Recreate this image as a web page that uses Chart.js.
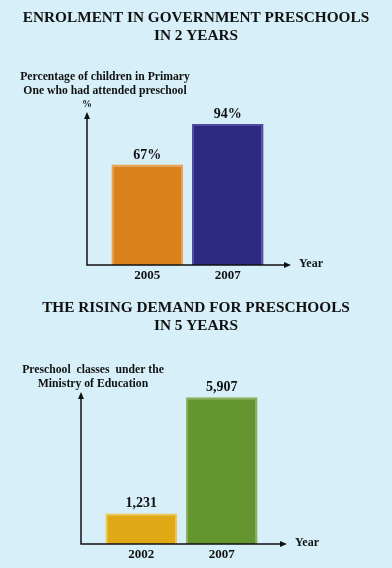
<!DOCTYPE html>
<html>
<head>
<meta charset="utf-8">
<script src="https://cdn.jsdelivr.net/npm/chart.js@4"></script>
<style>
  html, body { margin: 0; padding: 0; background: #d7eff9; }
  canvas { display: block; }
</style>
</head>
<body>
<canvas id="enrol"></canvas>
<canvas id="classes"></canvas>
<script>
// chart 1 - enrolment
const enrolYears = ['2005', '2007'];
const enrolPct = [67, 94];
const enrolColors = ['#d9821d', '#2b2a80'];
const enrolBorders = ['#eea04a', '#4b4aa4'];

// chart 2 - preschool classes
const classYears = ['2002', '2007'];
const classCounts = [1231, 5907];
const classColors = ['#e0a815', '#64952e'];
const classBorders = ['#f2c44a', '#86b35a'];

const serif = '"Liberation Serif", "DejaVu Serif", serif';

// draws the arrow axes, headings and the value labels on top of the bars
const decor = {
  id: 'decor',
  afterDatasetsDraw(chart, args, opts) {
    const ctx = chart.ctx;
    const area = chart.chartArea;
    const y0 = chart.scales.y.getPixelForValue(0);
    const ax = area.left - opts.gap;
    ctx.save();
    ctx.strokeStyle = '#111';
    ctx.fillStyle = '#111';
    ctx.lineWidth = 1.5;
    ctx.beginPath();
    ctx.moveTo(ax, opts.arrowTop + 4);
    ctx.lineTo(ax, y0);
    ctx.lineTo(opts.arrowRight - 4, y0);
    ctx.stroke();
    // arrow heads
    ctx.beginPath();
    ctx.moveTo(ax, opts.arrowTop);
    ctx.lineTo(ax - 3, opts.arrowTop + 7);
    ctx.lineTo(ax + 3, opts.arrowTop + 7);
    ctx.fill();
    ctx.beginPath();
    ctx.moveTo(opts.arrowRight, y0);
    ctx.lineTo(opts.arrowRight - 7, y0 - 3);
    ctx.lineTo(opts.arrowRight - 7, y0 + 3);
    ctx.fill();

    ctx.textAlign = 'left';
    ctx.textBaseline = 'middle';
    ctx.font = 'bold 12px ' + serif;
    ctx.fillText('Year', opts.arrowRight + 8, y0 - 1);

    ctx.textAlign = 'center';
    ctx.font = 'bold 15.3px ' + serif;
    opts.title.forEach((t, i) => ctx.fillText(t, 196, opts.titleY + i * 18));

    ctx.font = 'bold 11.7px ' + serif;
    opts.axisLabel.forEach((t, i) => ctx.fillText(t, opts.labelX, opts.labelY + i * 13.5));
    if (opts.unit) {
      ctx.font = 'bold 10px ' + serif;
      ctx.fillText(opts.unit, ax, opts.labelY + opts.axisLabel.length * 13.5);
    }

    ctx.font = 'bold 14px ' + serif;
    ctx.textBaseline = 'alphabetic';
    const meta = chart.getDatasetMeta(0);
    const vals = chart.data.datasets[0].data;
    meta.data.forEach((bar, i) => {
      ctx.fillText(opts.fmt(vals[i]), bar.x, bar.y - 6);
    });
    ctx.restore();
  }
};

function makeChart(id, labels, values, colors, borders, yMax, padding, decorOpts) {
  const canvas = document.getElementById(id);
  canvas.width = 392;
  canvas.height = 284;
  return new Chart(canvas.getContext('2d'), {
    type: 'bar',
    data: {
      labels: labels,
      datasets: [{
        data: values,
        backgroundColor: colors,
        borderColor: borders,
        borderWidth: 2,
        barPercentage: 0.89,
        categoryPercentage: 1
      }]
    },
    options: {
      responsive: false,
      animation: false,
      layout: { padding: padding },
      plugins: {
        legend: { display: false },
        tooltip: { enabled: false },
        decor: decorOpts
      },
      scales: {
        x: {
          grid: { display: false, drawTicks: false },
          border: { display: false },
          ticks: { color: '#111', padding: decorOpts.tickPad, font: { family: serif, size: 13, weight: 'bold' } },
          afterFit: s => { s.height = decorOpts.xHeight; }
        },
        y: { display: false, min: 0, max: yMax }
      }
    },
    plugins: [decor]
  });
}

makeChart('enrol', enrolYears, enrolPct, enrolColors, enrolBorders, 100,
  { left: 107, right: 124, top: 115, bottom: 0 },
  {
    gap: 20, arrowTop: 112, arrowRight: 291, xHeight: 19, tickPad: 3,
    title: ['ENROLMENT IN GOVERNMENT PRESCHOOLS', 'IN 2 YEARS'], titleY: 18,
    axisLabel: ['Percentage of children in Primary', 'One who had attended preschool'],
    unit: '%',
    labelX: 105, labelY: 77,
    fmt: v => v + '%'
  });

makeChart('classes', classYears, classCounts, classColors, classBorders, 6000,
  { left: 101, right: 130, top: 111, bottom: 0 },
  {
    gap: 20, arrowTop: 108, arrowRight: 287, xHeight: 24, tickPad: 3,
    title: ['THE RISING DEMAND FOR PRESCHOOLS', 'IN 5 YEARS'], titleY: 24,
    axisLabel: ['Preschool  classes  under the', 'Ministry of Education'],
    labelX: 93, labelY: 86,
    fmt: v => v.toLocaleString('en-US')
  });
</script>
</body>
</html>
